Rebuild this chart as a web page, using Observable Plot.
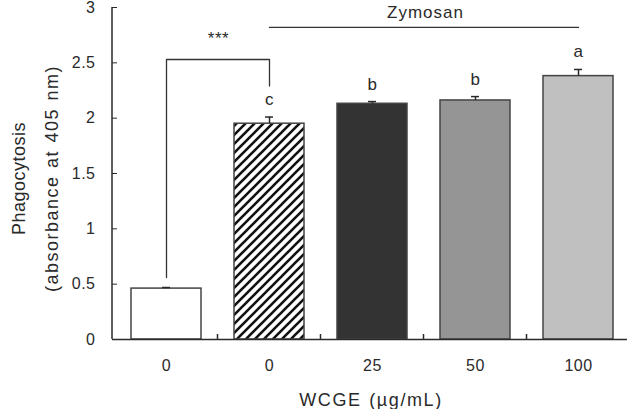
<!DOCTYPE html>
<html><head><meta charset="utf-8">
<script src="https://cdn.jsdelivr.net/npm/d3@7"></script>
<script src="https://cdn.jsdelivr.net/npm/@observablehq/plot@0.6"></script>
<style>body{margin:0;background:#fff} svg{display:block} svg text{letter-spacing:0.5px}</style>
</head><body><div id="chart"></div>
<script>
// ---- data ----
const groups = ["ctrl", "zym0", "zym25", "zym50", "zym100"];
const groupLabels = ["0", "0", "25", "50", "100"];
const means = [0.46, 1.95, 2.13, 2.16, 2.38];
const errors = [0.01, 0.06, 0.02, 0.035, 0.06];
const letters = ["", "c", "b", "b", "a"];
const yTicks = [0, 0.5, 1, 1.5, 2, 2.5, 3];
const yTickLabels = ["0", "0.5", "1", "1.5", "2", "2.5", "3"];
const bracketX = ["ctrl", "ctrl", "zym0", "zym0"];
const bracketY = [0.56, 2.53, 2.53, 2.29];
const zymosanX = ["zym0", "zym100"];
const zymosanY = [2.82, 2.82];
const xTitle = "WCGE (\u00b5g/mL)";
const yTitle = "Phagocytosis\n(absorbance at 405 nm)";

const data = groups.map((g, i) => ({group: g, mean: means[i], top: means[i] + errors[i], letter: letters[i]}));
const bracket = bracketX.map((x, i) => ({x, y: bracketY[i]}));
const zline = zymosanX.map((x, i) => ({x, y: zymosanY[i]}));

const font = "'Liberation Sans', Arial, Helvetica, sans-serif";
const ink = "#2a2a2a";

const plot = Plot.plot({
  width: 627, height: 409,
  marginLeft: 112, marginRight: 0, marginTop: 7, marginBottom: 70,
  style: {fontFamily: font, fontSize: "16px", color: ink, background: "#fff"},
  x: {type: "band", domain: groups, range: [112, 631], paddingInner: 0.325, paddingOuter: 0.1625, align: 0.5, axis: null},
  y: {domain: [0, 3], axis: null},
  color: {type: "ordinal", domain: groups, range: ["#ffffff", "url(#hatch)", "#333333", "#959595", "#c0c0c0"]},
  marks: [
    Plot.barY(data, {x: "group", y: "mean", fill: "group", stroke: "#444", strokeWidth: 1.5}),
    Plot.ruleX(data, {x: "group", y1: "mean", y2: "top", stroke: ink, strokeWidth: 1.5}),
    Plot.tickY(data, {x: "group", y: "top", insetLeft: 31, insetRight: 31, stroke: ink, strokeWidth: 1.5}),
    Plot.text(data, {x: "group", y: "top", text: "letter", dy: -12, lineAnchor: "bottom", fontSize: 17, fill: ink}),
    Plot.line(bracket, {x: "x", y: "y", stroke: "#333", strokeWidth: 1.3}),
    Plot.line(zline, {x: "x", y: "y", stroke: "#333", strokeWidth: 1.3}),
    Plot.text(["***"], {x: ["ctrl"], y: [bracketY[1]], dx: 52, dy: -16, lineAnchor: "bottom", fontSize: 17, fill: ink}),
    Plot.text(["Zymosan"], {x: ["zym25"], y: [zymosanY[0]], dx: 53, dy: -9, lineAnchor: "bottom", fontSize: 17, fill: ink}),
    Plot.ruleY([0], {stroke: ink, strokeWidth: 1.5}),
    Plot.axisY(yTicks, {tickFormat: d => yTickLabels[yTicks.indexOf(d)], tickSize: -5, tickPadding: 22, label: null, fontSize: 16}),
    Plot.axisX(groups, {tickFormat: d => groupLabels[groups.indexOf(d)], tickSize: 0, tickPadding: 20, label: null, fontSize: 16}),
    Plot.text([xTitle], {frameAnchor: "bottom", textAnchor: "middle", dx: 1, dy: 66, lineAnchor: "bottom", fontSize: 18, fill: ink}),
    Plot.text([yTitle], {frameAnchor: "left", textAnchor: "middle", rotate: -90, dx: -82, dy: 5, lineAnchor: "middle", lineHeight: 1.85, fontSize: 18, fill: ink})
  ]
});
document.getElementById("chart").appendChild(plot);

const svg = d3.select(plot);
// spacing tweaks for the titles and annotation text
svg.selectAll("text").each(function() {
  const t = this.textContent;
  if (t === "Zymosan") d3.select(this).style("letter-spacing", "1px");
  if (t === xTitle) d3.select(this).style("letter-spacing", "1.6px").style("word-spacing", "1px");
});
svg.selectAll("tspan").each(function() {
  if (this.textContent.startsWith("(absorbance")) d3.select(this).style("letter-spacing", "1.5px").style("word-spacing", "1px");
  if (this.textContent === "Phagocytosis") d3.select(this).style("letter-spacing", "0.5px");
});

// hatch pattern, axis line and category separator ticks derived from the scales
const pat = svg.insert("defs", ":first-child").append("pattern")
  .attr("id", "hatch").attr("patternUnits", "userSpaceOnUse").attr("width", 9).attr("height", 9);
pat.append("rect").attr("width", 9).attr("height", 9).attr("fill", "#fff");
pat.append("path").attr("d", "M-1,1 l2,-2 M0,9 l9,-9 M8,10 l2,-2").attr("stroke", "#111").attr("stroke-width", 2.6);

const xs = plot.scale("x"), ys = plot.scale("y");
const step = xs.step || xs.bandwidth / (1 - 0.325);
const gap = (step - xs.bandwidth) / 2;
const g = svg.append("g").attr("stroke", ink).attr("stroke-width", 1.5);
g.append("line").attr("x1", 112).attr("x2", 112).attr("y1", ys.apply(3)).attr("y2", ys.apply(0));
groups.slice(1).forEach(k => {
  const bx = xs.apply(k) - gap;
  g.append("line").attr("x1", bx).attr("x2", bx).attr("y1", ys.apply(0)).attr("y2", ys.apply(0) - 5);
});
</script>
</body></html>
